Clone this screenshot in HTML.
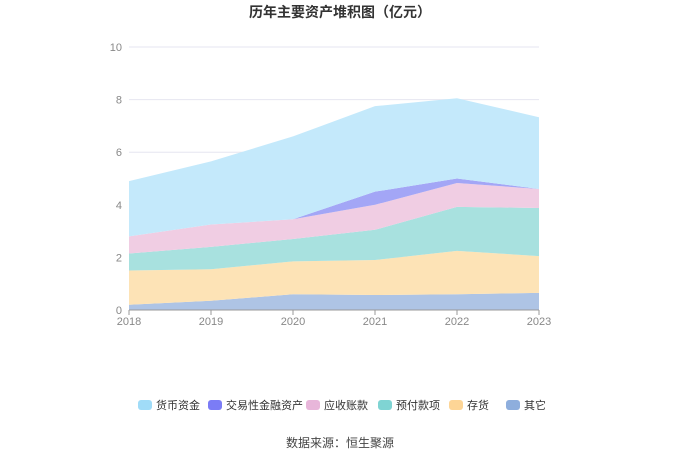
<!DOCTYPE html>
<html><head><meta charset="utf-8"><style>
body{margin:0;background:#fff;font-family:"Liberation Sans","Noto Sans CJK SC",sans-serif;}
</style></head><body>
<svg id="c" width="680" height="460" xmlns="http://www.w3.org/2000/svg" style="font-family:'Liberation Sans','Noto Sans CJK SC',sans-serif">
<text x="340" y="17" text-anchor="middle" font-size="14" font-weight="bold" fill="#333">历年主要资产堆积图（亿元）</text>
<g id="grid"></g><g id="areas"></g><g id="axes"></g><g id="legend"></g>
<text x="340" y="447" text-anchor="middle" font-size="12" fill="#444">数据来源：恒生聚源</text>
</svg>
<script>
const years=["2018","2019","2020","2021","2022","2023"];
const yTicks=[0,2,4,6,8,10];
const seriesNames=["货币资金","交易性金融资产","应收账款","预付款项","存货","其它"];
const cash=[2.1,2.4,3.15,3.25,3.05,2.73];
const trading=[0,0,0,0.5,0.17,0];
const receivable=[0.65,0.85,0.75,0.95,0.91,0.72];
const prepaid=[0.65,0.85,0.85,1.15,1.67,1.83];
const inventory=[1.3,1.2,1.25,1.33,1.65,1.4];
const other=[0.2,0.35,0.6,0.57,0.6,0.65];
const fills=["#c4e9fb","#a3a6f6","#f0cde3","#a8e1df","#fde3b6","#aec4e5"];
const legendColors=["#a0dcf8","#7b7cf6","#e8b6da","#7fd4d3","#fdd596","#8eaedd"];
const NS="http://www.w3.org/2000/svg";
const x0=129,x1=539,yb=310,yt=47;
const X=i=>x0+(x1-x0)*i/(years.length-1);
const Y=v=>yb-(yb-yt)*v/10;
function mk(t,a,p){const e=document.createElementNS(NS,t);for(const k in a)e.setAttribute(k,a[k]);p.appendChild(e);return e;}
const grid=document.getElementById('grid'),axes=document.getElementById('axes');
yTicks.forEach(v=>{
 const l=mk('line',{x1:x0,x2:x1,y1:Y(v),y2:Y(v),stroke:v?'#e6e6f0':'#999'},v?grid:axes);
 
 
 const t=mk('text',{x:122,y:Y(v)+4,'text-anchor':'end','font-size':11,fill:'#888'},axes);t.textContent=v;
 
 
});
years.forEach((y,i)=>{
 mk('line',{x1:X(i),x2:X(i),y1:yb,y2:yb+5,stroke:'#999'},axes);
 const t=mk('text',{x:X(i),y:yb+15,'text-anchor':'middle','font-size':11,fill:'#888'},axes);t.textContent=y;
 
 
});
const stackOrder=[other,inventory,prepaid,receivable,trading,cash];
const names=["其它","存货","预付款项","应收账款","交易性金融资产","货币资金"];
const fo=[fills[5],fills[4],fills[3],fills[2],fills[1],fills[0]];
let base=years.map(()=>0);
const areas=document.getElementById('areas');
stackOrder.forEach((s,k)=>{
 const top=base.map((b,i)=>b+s[i]);
 let d='M'+top.map((v,i)=>X(i)+','+Y(v)).join(' L');
 for(let i=years.length-1;i>=0;i--)d+=' L'+X(i)+','+Y(base[i]);
 const p=mk('path',{d:d+'Z',fill:fo[k]},areas);
 
 
 base=top;
});
const lg=document.getElementById('legend');
const lx=[138,208,306,378,449,506];
seriesNames.forEach((n,i)=>{
 const g=mk('g',{},lg);
 
 
 mk('rect',{x:lx[i],y:400,width:14,height:10,rx:3,fill:legendColors[i]},g);
 const t=mk('text',{x:lx[i]+18,y:409,'font-size':11,fill:'#333'},g);t.textContent=n;
});
</script>
</body></html>
